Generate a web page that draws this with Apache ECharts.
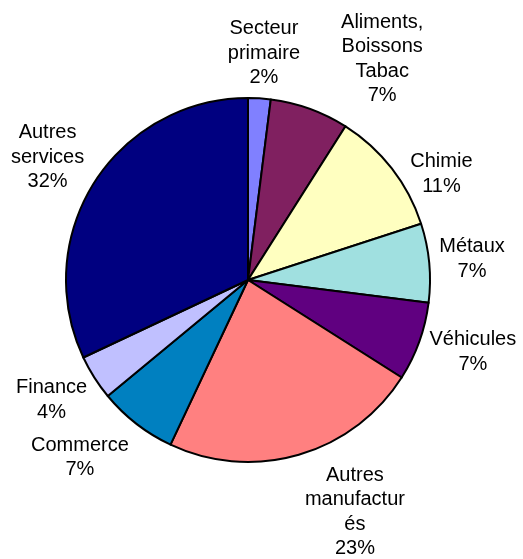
<!DOCTYPE html>
<html>
<head>
<meta charset="utf-8">
<script src="https://cdn.jsdelivr.net/npm/echarts@6/dist/echarts.min.js"></script>
<style>
  html, body { margin: 0; padding: 0; background: #fff; }
  #chart { width: 523px; height: 559px; }
</style>
</head>
<body>
<div id="chart"></div>
<script>
// parts par secteur (%)
var categories = ['Secteur\nprimaire', 'Aliments,\nBoissons\nTabac', 'Chimie', 'Métaux', 'Véhicules',
                  'Autres\nmanufactur\nés', 'Commerce', 'Finance', 'Autres\nservices'];
var values = [2, 7, 11, 7, 7, 23, 7, 4, 32];
var colors = ['#8080FF', '#802060', '#FFFFC0', '#A0E0E0', '#600080',
              '#FF8080', '#0080C0', '#C0C0FF', '#000080'];
// décalage des étiquettes par rapport au point de la ligne de rappel
var labelShift = [[2, -5], [59, -12], [18, 30], [3, 0], [16, -3],
                  [45, 19], [-32, 2], [-9, 1], [-13, -4]];

function run() {
    var chart = echarts.init(document.getElementById('chart'));
    var data = categories.map(function (c, i) {
        return { name: c, value: values[i], itemStyle: { color: colors[i] } };
    });
    chart.setOption({
        animation: false,
        series: [{
            type: 'pie',
            center: [248, 280],
            radius: 182,
            startAngle: 90,
            avoidLabelOverlap: false,
            data: data,
            itemStyle: { borderColor: '#000', borderWidth: 2 },
            label: {
                position: 'outside',
                formatter: '{b}\n{c}%',
                fontFamily: 'Liberation Sans, Arial, sans-serif',
                fontSize: 20,
                lineHeight: 24.5,
                color: '#000',
                align: 'center'
            },
            labelLine: { show: true, length: 40, length2: 0, lineStyle: { width: 0, opacity: 0 } },
            labelLayout: function (p) {
                var s = labelShift[p.dataIndex];
                var pts = p.labelLinePoints;
                if (!pts) return { align: 'center', verticalAlign: 'middle' };
                return {
                    x: pts[1][0] + s[0],
                    y: pts[1][1] + s[1],
                    align: 'center',
                    verticalAlign: 'middle'
                };
            }
        }]
    });
}

if (document.readyState !== 'loading') {
    run();
} else {
    document.addEventListener('DOMContentLoaded', run);
}
</script>
</body>
</html>
